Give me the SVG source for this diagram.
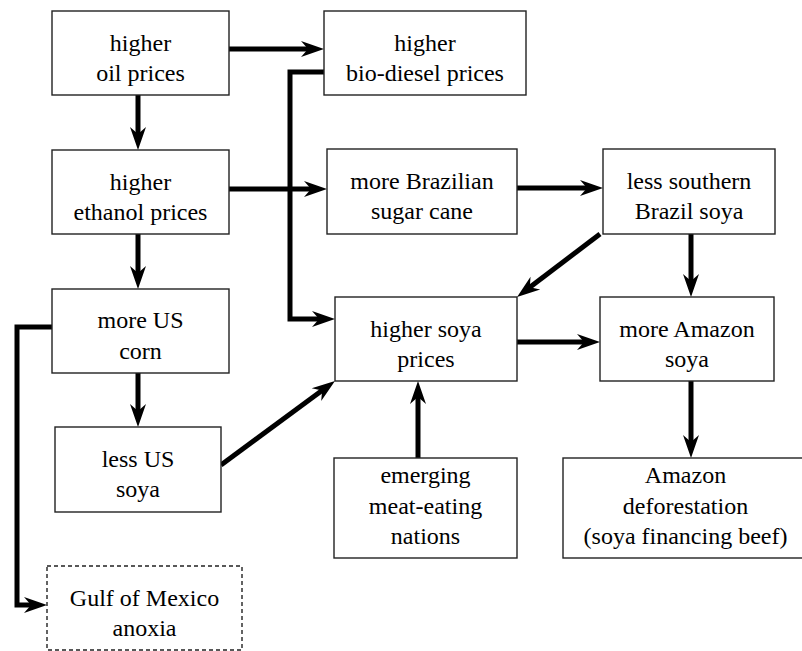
<svg xmlns="http://www.w3.org/2000/svg" width="802" height="651" viewBox="0 0 802 651">
<style>
.box{fill:#fff;stroke:#222;stroke-width:1.4}
.dash{stroke-dasharray:4 3}
.c{fill:none;stroke:#000;stroke-width:5;marker-end:url(#ah)}
</style>
<defs>
<marker id="ah" markerUnits="userSpaceOnUse" viewBox="-10 -10 30 20" markerWidth="30" markerHeight="20" refX="0" refY="0" orient="auto">
<path d="M14,0 L-9,-8 L-2,0 L-9,8 Z" fill="#000"/>
</marker>
</defs>
<rect width="802" height="651" fill="#fff"/>
<g id="connectors">
<path class="c" d="M229,49 H310"/>
<path class="c" d="M324,72 H290 V319 H321"/>
<path class="c" d="M138,95 V136"/>
<path class="c" d="M229,189 H313"/>
<path class="c" d="M138,234 V275"/>
<path class="c" d="M52,327 H17 V605 H33"/>
<path class="c" d="M138,373 V413"/>
<path class="c" d="M221,465 L323.7,389.3"/>
<path class="c" d="M517,188 H589"/>
<path class="c" d="M600,234 L528.2,288.5"/>
<path class="c" d="M691,234 V283"/>
<path class="c" d="M517,342 H586"/>
<path class="c" d="M418,458 V395"/>
<path class="c" d="M691,381 V444"/>
</g>
<g id="oil"><rect class="box" x="52" y="11" width="177" height="84"/><text style="font-family:'Liberation Serif',serif" font-size="24" text-anchor="middle" x="140.5" y="51">higher</text><text style="font-family:'Liberation Serif',serif" font-size="24" text-anchor="middle" x="140.5" y="81">oil prices</text></g>
<g id="biodiesel"><rect class="box" x="324" y="11" width="202" height="84"/><text style="font-family:'Liberation Serif',serif" font-size="24" text-anchor="middle" x="425" y="51">higher</text><text style="font-family:'Liberation Serif',serif" font-size="24" text-anchor="middle" x="425" y="81">bio-diesel prices</text></g>
<g id="ethanol"><rect class="box" x="52" y="150" width="177" height="84"/><text style="font-family:'Liberation Serif',serif" font-size="24" text-anchor="middle" x="140.5" y="190">higher</text><text style="font-family:'Liberation Serif',serif" font-size="24" text-anchor="middle" x="140.5" y="220">ethanol prices</text></g>
<g id="sugar"><rect class="box" x="327" y="149" width="190" height="85"/><text style="font-family:'Liberation Serif',serif" font-size="24" text-anchor="middle" x="422" y="189">more Brazilian</text><text style="font-family:'Liberation Serif',serif" font-size="24" text-anchor="middle" x="422" y="219">sugar cane</text></g>
<g id="southern"><rect class="box" x="603" y="149" width="172" height="85"/><text style="font-family:'Liberation Serif',serif" font-size="24" text-anchor="middle" x="689" y="189">less southern</text><text style="font-family:'Liberation Serif',serif" font-size="24" text-anchor="middle" x="689" y="219">Brazil soya</text></g>
<g id="corn"><rect class="box" x="52" y="289" width="177" height="84"/><text style="font-family:'Liberation Serif',serif" font-size="24" text-anchor="middle" x="140.5" y="328">more US</text><text style="font-family:'Liberation Serif',serif" font-size="24" text-anchor="middle" x="140.5" y="359">corn</text></g>
<g id="soyaprices"><rect class="box" x="335" y="297" width="182" height="84"/><text style="font-family:'Liberation Serif',serif" font-size="24" text-anchor="middle" x="426" y="337">higher soya</text><text style="font-family:'Liberation Serif',serif" font-size="24" text-anchor="middle" x="426" y="367">prices</text></g>
<g id="amazonsoya"><rect class="box" x="600" y="297" width="174" height="84"/><text style="font-family:'Liberation Serif',serif" font-size="24" text-anchor="middle" x="687" y="337">more Amazon</text><text style="font-family:'Liberation Serif',serif" font-size="24" text-anchor="middle" x="687" y="367">soya</text></g>
<g id="lessus"><rect class="box" x="55" y="427" width="166" height="85"/><text style="font-family:'Liberation Serif',serif" font-size="24" text-anchor="middle" x="138" y="467">less US</text><text style="font-family:'Liberation Serif',serif" font-size="24" text-anchor="middle" x="138" y="497">soya</text></g>
<g id="emerging"><rect class="box" x="334" y="458" width="183" height="100"/><text style="font-family:'Liberation Serif',serif" font-size="24" text-anchor="middle" x="425.5" y="483">emerging</text><text style="font-family:'Liberation Serif',serif" font-size="24" text-anchor="middle" x="425.5" y="514">meat-eating</text><text style="font-family:'Liberation Serif',serif" font-size="24" text-anchor="middle" x="425.5" y="544">nations</text></g>
<g id="deforestation"><rect class="box" x="563" y="458" width="245" height="100"/><text style="font-family:'Liberation Serif',serif" font-size="24" text-anchor="middle" x="685.5" y="483">Amazon</text><text style="font-family:'Liberation Serif',serif" font-size="24" text-anchor="middle" x="685.5" y="514">deforestation</text><text style="font-family:'Liberation Serif',serif" font-size="24" text-anchor="middle" x="685.5" y="544">(soya financing beef)</text></g>
<g id="gulf"><rect class="box dash" x="47" y="566" width="195" height="84"/><text style="font-family:'Liberation Serif',serif" font-size="24" text-anchor="middle" x="144.5" y="606">Gulf of Mexico</text><text style="font-family:'Liberation Serif',serif" font-size="24" text-anchor="middle" x="144.5" y="636">anoxia</text></g>
</svg>
